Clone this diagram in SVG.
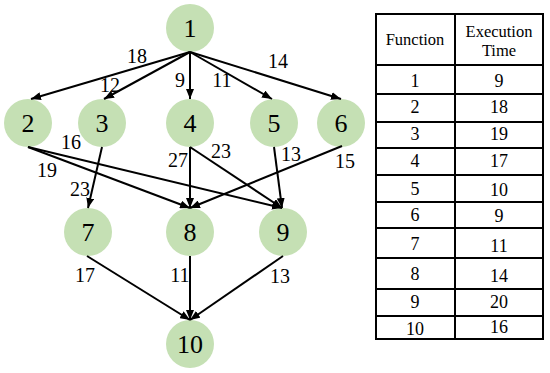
<svg xmlns="http://www.w3.org/2000/svg" width="550" height="373" viewBox="0 0 550 373">
<defs>
<marker id="ah" markerUnits="userSpaceOnUse" markerWidth="10" markerHeight="8" refX="10" refY="4" orient="auto">
<path d="M0,0 L10,4 L0,8 z" fill="#000"/>
</marker>
<style>
text{font-family:'Liberation Serif','Times New Roman',Times,'DejaVu Serif',serif;fill:#000;text-anchor:middle;}
.n circle{fill:#C5E0B4;}
.n text{font-size:26px;}
.e line{stroke:#000;stroke-width:2;marker-end:url(#ah);}
.el text{font-size:20px;}
.t line, .t rect{stroke:#000;stroke-width:2;fill:none;}
.t text{font-size:18px;}
.t text.h{font-size:16.5px;}
</style>
</defs>
<rect width="550" height="373" fill="#fff"/>
<g id="nodes">
<g id="n1" class="n"><circle cx="190" cy="28" r="24"/><text x="190" y="37">1</text></g>
<g id="n2" class="n"><circle cx="28" cy="123" r="24"/><text x="28" y="132">2</text></g>
<g id="n3" class="n"><circle cx="102" cy="123" r="24"/><text x="102" y="132">3</text></g>
<g id="n4" class="n"><circle cx="190" cy="123" r="24"/><text x="190" y="132">4</text></g>
<g id="n5" class="n"><circle cx="274" cy="123" r="24"/><text x="274" y="132">5</text></g>
<g id="n6" class="n"><circle cx="341" cy="123" r="24"/><text x="341" y="132">6</text></g>
<g id="n7" class="n"><circle cx="88" cy="232" r="24"/><text x="88" y="241">7</text></g>
<g id="n8" class="n"><circle cx="190" cy="232" r="24"/><text x="190" y="241">8</text></g>
<g id="n9" class="n"><circle cx="283" cy="232" r="24"/><text x="283" y="241">9</text></g>
<g id="n10" class="n"><circle cx="190" cy="344" r="24"/><text x="190" y="353">10</text></g>
</g>
<g id="connectors" class="e">
<line x1="190" y1="52" x2="31" y2="99"/>
<line x1="190" y1="52" x2="104" y2="99"/>
<line x1="190" y1="52" x2="190" y2="99"/>
<line x1="190" y1="52" x2="272" y2="99"/>
<line x1="190" y1="52" x2="341" y2="99"/>
<line x1="28" y1="147" x2="190" y2="208"/>
<line x1="28" y1="147" x2="282" y2="208"/>
<line x1="102" y1="147" x2="88" y2="208"/>
<line x1="190" y1="147" x2="190" y2="208"/>
<line x1="190" y1="147" x2="282" y2="208"/>
<line x1="274" y1="147" x2="282" y2="208"/>
<line x1="342" y1="146" x2="190" y2="208"/>
<line x1="87" y1="256" x2="190" y2="320"/>
<line x1="190" y1="256" x2="190" y2="320"/>
<line x1="283" y1="256" x2="190" y2="320"/>
</g>
<g id="edge-labels" class="el">
<text x="137" y="63">18</text>
<text x="110" y="92">12</text>
<text x="180" y="87">9</text>
<text x="222" y="87">11</text>
<text x="278" y="68">14</text>
<text x="71" y="149">16</text>
<text x="47" y="177">19</text>
<text x="80" y="196">23</text>
<text x="178" y="167">27</text>
<text x="221" y="158">23</text>
<text x="291" y="161">13</text>
<text x="345" y="168">15</text>
<text x="85" y="282">17</text>
<text x="180" y="282">11</text>
<text x="280" y="283">13</text>
</g>
<g id="table" class="t">
<rect x="376" y="14" width="167" height="325"/>
<line x1="455" y1="14" x2="455" y2="339"/>
<line x1="376" y1="65" x2="543" y2="65"/>
<line x1="376" y1="94" x2="543" y2="94"/>
<line x1="376" y1="122" x2="543" y2="122"/>
<line x1="376" y1="148" x2="543" y2="148"/>
<line x1="376" y1="175" x2="543" y2="175"/>
<line x1="376" y1="202" x2="543" y2="202"/>
<line x1="376" y1="228" x2="543" y2="228"/>
<line x1="376" y1="258" x2="543" y2="258"/>
<line x1="376" y1="289" x2="543" y2="289"/>
<line x1="376" y1="316" x2="543" y2="316"/>
<text class="h" x="415" y="45">Function</text>
<text class="h" x="499" y="37">Execution</text>
<text class="h" x="499" y="56">Time</text>
<text x="415" y="87">1</text><text x="499" y="87">9</text>
<text x="415" y="113">2</text><text x="499" y="113">18</text>
<text x="415" y="140">3</text><text x="499" y="140">19</text>
<text x="415" y="167">4</text><text x="499" y="167">17</text>
<text x="415" y="195">5</text><text x="499" y="196">10</text>
<text x="415" y="221">6</text><text x="499" y="222">9</text>
<text x="415" y="250">7</text><text x="499" y="252">11</text>
<text x="415" y="280">8</text><text x="499" y="282">14</text>
<text x="415" y="308">9</text><text x="499" y="308">20</text>
<text x="415" y="335">10</text><text x="499" y="333">16</text>
</g>
</svg>
